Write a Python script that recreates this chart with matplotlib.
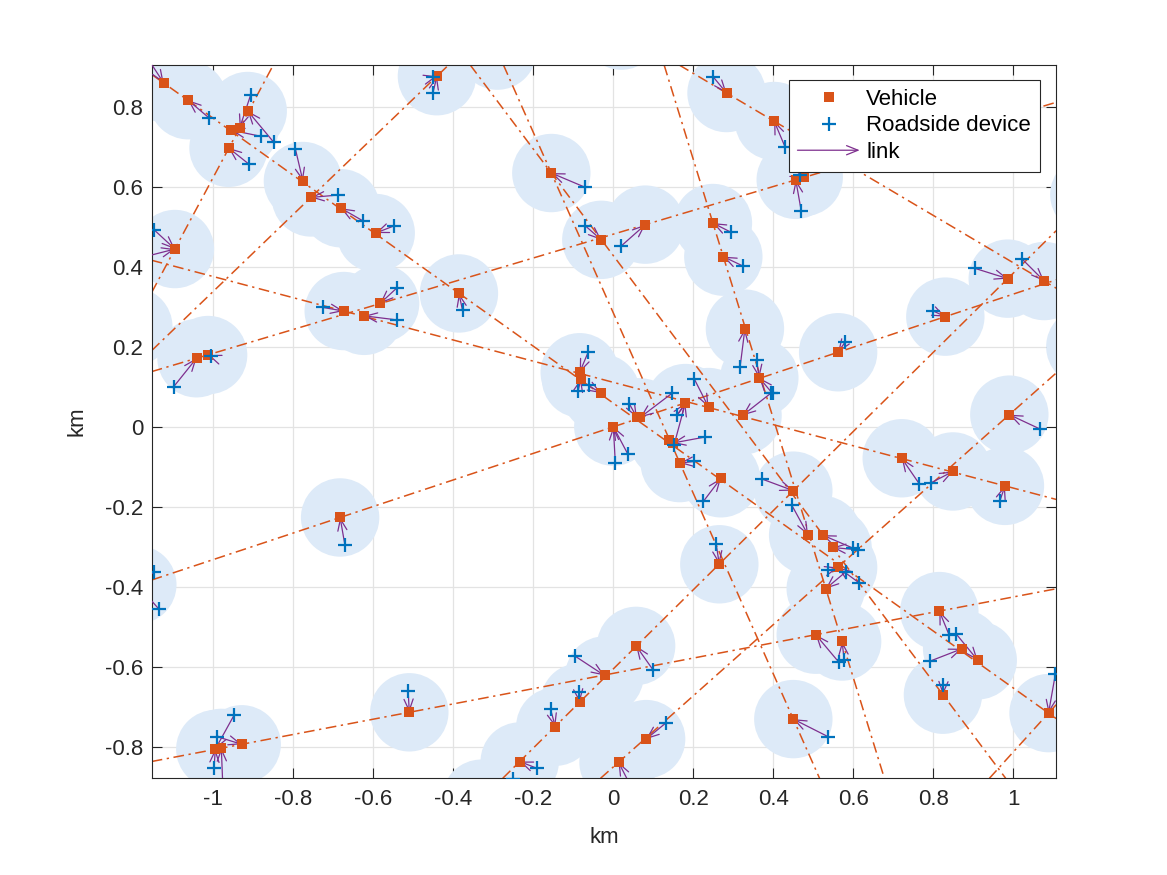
import numpy as np
import matplotlib
matplotlib.use("Agg")
from matplotlib import pyplot as plt
from matplotlib.patches import Circle, FancyArrowPatch
from matplotlib.lines import Line2D
from matplotlib.legend_handler import HandlerBase

plt.rcParams['font.family'] = ['Liberation Sans', 'DejaVu Sans']

# vehicle positions (km); the last few sit just outside the visible window
veh_x = [-1.124, -1.063, -0.955, -0.934, -0.914, -0.962, -0.776, -0.756, -0.681, -0.594,
         -1.096, -0.441, -0.386, -0.583, -0.674, -0.623, -1.042, -1.013, -0.683, -0.155,
         -0.030, 0.080, 0.283, 0.249, 0.275, 0.402, 0.456, 0.476, 0.986, 1.077,
         -0.084, -0.081, -0.031, 0.059, 0.067, 0.000, 0.180, 0.238, 0.138, 0.148,
         0.166, 0.269, 0.329, 0.365, 0.323, 0.562, 0.830, 0.990, 0.721, 0.849,
         0.979, 0.450, 0.487, 0.265, 0.523, 0.548, 0.562, 0.531, 0.506, 0.572,
         0.450, 0.815, 0.872, 0.911, 0.824, 1.088, -0.995, -0.980, -0.929, -0.510,
         0.057, -0.022, -0.084, -0.145, -0.234, 0.082, 0.013,
         -1.200, -1.190, -0.290, 0.020, 1.180, 1.190, -0.330]
veh_y = [0.859, 0.816, 0.741, 0.747, 0.789, 0.697, 0.614, 0.573, 0.546, 0.484,
         0.444, 0.876, 0.333, 0.308, 0.289, 0.277, 0.171, 0.179, -0.227, 0.634,
         0.467, 0.505, 0.834, 0.509, 0.425, 0.764, 0.617, 0.624, 0.370, 0.364,
         0.136, 0.120, 0.084, 0.023, 0.023, 0.000, 0.059, 0.049, -0.033, -0.041,
         -0.091, -0.129, 0.245, 0.122, 0.028, 0.186, 0.275, 0.030, -0.079, -0.112,
         -0.148, -0.160, -0.271, -0.344, -0.271, -0.302, -0.352, -0.405, -0.520, -0.537,
         -0.731, -0.461, -0.555, -0.584, -0.670, -0.716, -0.806, -0.803, -0.794, -0.714,
         -0.548, -0.622, -0.689, -0.750, -0.837, -0.781, -0.839,
         0.250, -0.395, 0.940, 0.990, 0.200, 0.580, -0.930]

# roadside devices and the vehicle each one links to
dev_x = [-1.170, -1.011, -0.907, -0.882, -0.849, -0.912, -0.795, -0.688, -0.627, -0.548,
         -1.148, -1.190, -0.451, -0.452, -0.542, -0.726, -0.542, -0.377, -1.005, -1.099,
         -0.671, -0.072, -0.070, 0.019, 0.250, 0.294, 0.323, 0.429, 0.470, 0.466,
         0.903, 1.022, -0.063, -0.088, -0.062, 0.040, 0.146, 0.005, 0.036, 0.159,
         0.152, 0.229, 0.202, 0.202, 0.225, 0.317, 0.358, 0.393, 0.398, 0.579,
         0.800, 1.067, 0.765, 0.795, 0.966, 0.372, 0.446, 0.257, 0.600, 0.612,
         0.537, 0.581, 0.614, 0.564, 0.577, 0.537, 0.840, 0.857, 0.792, 0.825,
         1.105, -1.148, -1.136, -0.990, -0.948, -0.998, -0.975, -0.513, 0.100, -0.095,
         -0.087, -0.157, -0.191, -0.250, 0.131, 0.060]
dev_y = [0.930, 0.772, 0.828, 0.726, 0.711, 0.657, 0.695, 0.579, 0.515, 0.502,
         0.492, 0.420, 0.834, 0.873, 0.346, 0.298, 0.267, 0.291, 0.176, 0.100,
         -0.296, 0.599, 0.502, 0.451, 0.874, 0.486, 0.402, 0.700, 0.538, 0.628,
         0.396, 0.419, 0.186, 0.089, 0.103, 0.057, 0.083, -0.091, -0.068, 0.028,
         -0.045, -0.026, 0.120, -0.087, -0.187, 0.150, 0.166, 0.083, 0.083, 0.211,
         0.289, -0.006, -0.143, -0.140, -0.187, -0.131, -0.196, -0.293, -0.304, -0.308,
         -0.359, -0.363, -0.390, -0.589, -0.583, -0.775, -0.522, -0.518, -0.586, -0.645,
         -0.619, -0.363, -0.456, -0.775, -0.721, -0.852, -0.930, -0.660, -0.609, -0.574,
         -0.664, -0.706, -0.854, -0.881, -0.741, -0.930]
dev_link = [0, 1, 3, 2, 4, 5, 6, 7, 8, 9,
            10, 10, 11, 11, 13, 14, 15, 12, 17, 16,
            18, 19, 20, 21, 22, 23, 24, 25, 26, 27,
            28, 29, 30, 31, 32, 33, 34, 35, 35, 36,
            36, 39, 37, 40, 41, 42, 43, 44, 43, 45,
            46, 47, 48, 49, 50, 51, 52, 53, 54, 55,
            56, 57, 56, 58, 59, 60, 61, 63, 62, 64,
            65, 78, 78, 68, 66, 66, 67, 69, 70, 71,
            72, 73, 74, 83, 75, 76]

# roads: each one is the infinite line through two points
road_x1 = [-1.124, 0.283, -0.934, -0.441, -0.674, -1.042, -0.683, 0.249, -0.155, -0.155, -0.234, 0.013, 1.088, -0.929]
road_y1 = [0.859, 0.834, 0.747, 0.876, 0.289, 0.171, -0.227, 0.509, 0.634, 0.634, -0.837, -0.839, -0.716, -0.794]
road_x2 = [1.088, 1.077, -1.096, -0.756, 0.979, 0.080, 0.830, 0.572, 0.450, 0.824, 0.986, 0.990, 1.000, 0.815]
road_y2 = [-0.716, 0.364, 0.444, 0.573, -0.148, 0.505, 0.275, -0.537, -0.731, -0.670, 0.370, 0.030, -0.813, -0.461]

coverage = 0.098  # km
xticks = [-1, -0.8, -0.6, -0.4, -0.2, 0, 0.2, 0.4, 0.6, 0.8, 1]
xtick_labels = ['-1', '-0.8', '-0.6', '-0.4', '-0.2', '0', '0.2', '0.4', '0.6', '0.8', '1']
yticks = [-0.8, -0.6, -0.4, -0.2, 0, 0.2, 0.4, 0.6, 0.8]
ytick_labels = ['-0.8', '-0.6', '-0.4', '-0.2', '0', '0.2', '0.4', '0.6', '0.8']

orange = '#D95319'
blue = '#0072BD'
purple = '#7E2F8E'
fs = 16


def make_arrow(p0, p1, **kw):
    return FancyArrowPatch(p0, p1, arrowstyle='->,head_length=0.55,head_width=0.22',
                           mutation_scale=15, color=purple, lw=0.9,
                           shrinkA=0, shrinkB=0, **kw)


class ArrowHandler(HandlerBase):
    def create_artists(self, legend, orig_handle, xdescent, ydescent,
                       width, height, fontsize, trans):
        y = height / 2 - ydescent
        a = make_arrow((-xdescent, y), (-xdescent + width, y), transform=trans)
        return [a]


fig = plt.figure(figsize=(11.67, 8.75), dpi=100)
ax = fig.add_axes([0.130, 0.1105, 0.775, 0.8152])

for x, y in zip(veh_x, veh_y):
    ax.add_patch(Circle((x, y), coverage, facecolor='#DDEAF8', edgecolor='none', zorder=1))

for x1, y1, x2, y2 in zip(road_x1, road_y1, road_x2, road_y2):
    ax.axline((x1, y1), (x2, y2), color=orange, lw=1.1,
              linestyle=(0, (7, 3, 1.5, 3)), zorder=2)

for x, y, k in zip(dev_x, dev_y, dev_link):
    ax.add_patch(make_arrow((x, y), (veh_x[k], veh_y[k]), zorder=3))

ax.plot(veh_x, veh_y, 's', color=orange, markersize=6.5, mew=0, zorder=4)
ax.plot(dev_x, dev_y, '+', color=blue, markersize=10, mew=1.6, zorder=5)

ax.set_xlim(-1.154, 1.107)
ax.set_ylim(-0.879, 0.904)
ax.set_xticks(xticks)
ax.set_xticklabels(xtick_labels)
ax.set_yticks(yticks)
ax.set_yticklabels(ytick_labels)
ax.set_axisbelow(True)
ax.grid(True, color='#E3E3E3', lw=0.9)
ax.tick_params(direction='in', length=7, width=0.8, top=True, right=True,
               labelsize=fs, colors='#262626')
ax.tick_params(axis='x', pad=8)
ax.tick_params(axis='y', pad=6)
for s in ax.spines.values():
    s.set_color('#262626')
    s.set_linewidth(0.8)
ax.set_xlabel('km', fontsize=fs, color='#262626', labelpad=12)
ax.set_ylabel('km', fontsize=fs, color='#262626', labelpad=13)

h_veh = Line2D([], [], marker='s', color=orange, linestyle='none', markersize=6.5, mew=0)
h_dev = Line2D([], [], marker='+', color=blue, linestyle='none', markersize=10, mew=1.6)
h_link = object()
leg = ax.legend([h_veh, h_dev, h_link], ['Vehicle', 'Roadside device', 'link'],
                handler_map={h_link: ArrowHandler()},
                loc='upper right', bbox_to_anchor=(1040 / 1167, 1 - 80 / 875),
                bbox_transform=fig.transFigure, borderaxespad=0, fontsize=fs,
                handlelength=2.8, handletextpad=0.3, labelspacing=0.25,
                borderpad=0.4, fancybox=False, framealpha=1, edgecolor='#262626')
leg.get_frame().set_linewidth(0.8)
leg.set_zorder(10)

fig.savefig('out.png', dpi=100)
